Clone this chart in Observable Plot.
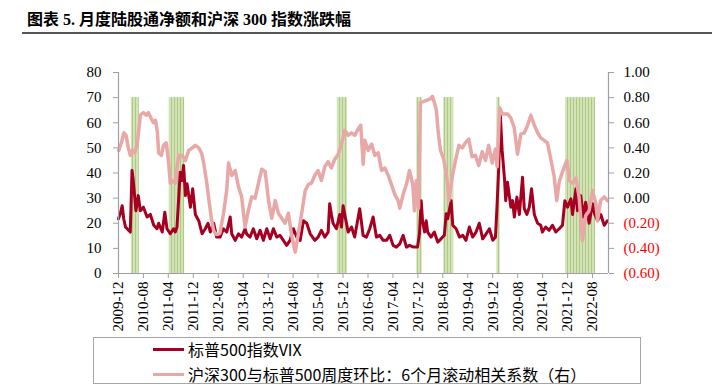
<!DOCTYPE html>
<html><head><meta charset="utf-8">
<script src="https://cdn.jsdelivr.net/npm/d3@7"></script>
<script src="https://cdn.jsdelivr.net/npm/@observablehq/plot@0.6"></script>
<style>
html,body{margin:0;padding:0;background:#fff}
body{width:722px;height:385px;overflow:hidden;position:relative}
#title{position:absolute;left:27px;top:11px;font-weight:bold;font-size:16px;line-height:17px;font-family:"Liberation Serif","Noto Sans CJK SC",serif;color:#000;white-space:nowrap}
#rule{position:absolute;left:22px;top:32px;width:690px;height:2px;background:#555}
#chart{position:absolute;left:0;top:40px}
#legend{position:absolute;left:93px;top:337px;width:548px;height:47px;border:1px solid #a6a6a6;box-sizing:border-box}
.item{position:absolute;left:0;height:18px;font-family:"Noto Sans CJK SC",sans-serif;font-size:16px;line-height:18px;white-space:nowrap;color:#000}
.sw{position:absolute;left:59px;top:8px;width:31px;height:3px}
.lab{position:absolute;left:94px;top:0}
</style></head>
<body>
<div id="title">图表 5. 月度陆股通净额和沪深 300 指数涨跌幅</div>
<div id="rule"></div>
<div id="chart"></div>
<div id="legend"></div>
<script>
// ---- data ----
const seriesNames = ["标普500指数VIX", "沪深300与标普500周度环比：6个月滚动相关系数（右）"];
const xTickLabels = ["2009-12","2010-08","2011-04","2011-12","2012-08","2013-04","2013-12","2014-08","2015-04","2015-12","2016-08","2017-04","2017-12","2018-08","2019-04","2019-12","2020-08","2021-04","2021-12","2022-08"];
const leftTicks = [0,10,20,30,40,50,60,70,80];
const rightTicks = [1.0,0.8,0.6,0.4,0.2,0.0,-0.2,-0.4,-0.6];
const leftDomain = [0, 80];
const rightDomain = [-0.6, 1.0];
const xDomain = ["2009-12-01", "2023-01-04"];
const shadeTop = 70;
const shadeStart = ["2010-04-05","2011-04-11","2015-10-07","2017-11-20","2018-08-10","2020-01-10","2021-11-11"];
const shadeEnd   = ["2010-06-22","2011-09-08","2016-01-13","2018-01-12","2018-11-16","2020-02-13","2022-08-30"];
const vixSeries = [["2009-12-01",21.8],["2009-12-20",24],["2010-01-06",27],["2010-01-21",21.8],["2010-02-07",18.5],["2010-03-26",16.5],["2010-04-12",41],["2010-04-24",37],["2010-05-20",25],["2010-06-12",31],["2010-07-02",25],["2010-08-01",26.4],["2010-09-06",22.5],["2010-10-08",23.5],["2010-11-10",19.2],["2010-12-12",17.8],["2010-12-28",20],["2011-02-01",16.5],["2011-02-26",24.4],["2011-03-19",17.8],["2011-04-20",15.8],["2011-05-22",17.8],["2011-06-08",16.5],["2011-06-25",18.5],["2011-07-10",29],["2011-07-26",40.3],["2011-08-13",37],["2011-08-28",43],["2011-09-15",31],["2011-10-01",35.7],["2011-11-03",26.4],["2011-11-25",33.7],["2011-12-21",23.5],["2012-01-23",21],["2012-02-25",15.8],["2012-03-27",17.8],["2012-04-23",20],["2012-05-15",16.5],["2012-06-17",20],["2012-07-16",14.5],["2012-08-18",14.5],["2012-09-20",17.8],["2012-10-22",16.5],["2012-11-25",22.5],["2012-12-10",15.8],["2013-01-13",13.2],["2013-02-14",15.8],["2013-03-16",14.5],["2013-04-19",17.8],["2013-05-04",15.8],["2013-06-07",14.5],["2013-07-09",17.8],["2013-08-11",13.8],["2013-09-13",17.2],["2013-10-15",13.2],["2013-11-17",17.8],["2013-12-20",13.8],["2014-01-21",17.8],["2014-02-23",14.5],["2014-03-26",15.2],["2014-04-28",13.2],["2014-05-30",11.2],["2014-07-02",13.2],["2014-08-04",17.8],["2014-09-06",14.5],["2014-10-09",13.2],["2014-11-10",21],["2014-12-12",20],["2015-01-15",15.8],["2015-03-01",13.2],["2015-04-02",14.5],["2015-05-04",17.2],["2015-06-06",14.5],["2015-07-09",16.5],["2015-07-24",27.8],["2015-08-10",23.5],["2015-08-26",20],["2015-09-28",17.8],["2015-10-30",23.5],["2015-11-16",18.5],["2015-12-02",27],["2015-12-18",23.5],["2016-01-20",16.5],["2016-02-22",18.5],["2016-03-24",14.5],["2016-05-12",25.8],["2016-06-14",15.2],["2016-07-16",14.5],["2016-08-18",17.8],["2016-09-20",22.5],["2016-10-22",14.5],["2016-11-24",15.2],["2016-12-27",13.2],["2017-01-29",13.2],["2017-03-01",15.2],["2017-04-03",11.2],["2017-05-05",10.5],["2017-06-07",11.8],["2017-07-10",15.2],["2017-08-11",10.5],["2017-09-10",11.2],["2017-10-18",10.5],["2017-11-27",10.5],["2017-12-16",15.8],["2018-01-02",29],["2018-01-15",21],["2018-02-04",16.5],["2018-02-20",21],["2018-03-06",16.5],["2018-04-08",14.5],["2018-05-10",16.5],["2018-06-12",12.5],["2018-07-15",13.8],["2018-08-16",15.2],["2018-09-03",23.8],["2018-09-18",21.8],["2018-10-21",29],["2018-11-06",19.2],["2018-12-09",17.8],["2019-01-11",14.5],["2019-02-12",15.2],["2019-03-15",13.2],["2019-04-17",18.5],["2019-05-19",14.5],["2019-06-21",16.5],["2019-07-23",20],["2019-08-25",13.8],["2019-09-28",15.8],["2019-10-30",17.8],["2019-12-02",13.2],["2019-12-28",14.5],["2020-01-10",25],["2020-01-29",42.3],["2020-02-13",63.5],["2020-03-02",49],["2020-03-25",37.7],["2020-04-06",29],["2020-04-23",36.3],["2020-05-26",26.4],["2020-06-12",29],["2020-06-29",22.5],["2020-07-24",30.4],["2020-08-17",23.5],["2020-09-17",38.3],["2020-10-04",25.8],["2020-10-29",23.5],["2020-11-22",26.4],["2020-12-14",33.7],["2021-01-10",23.5],["2021-02-11",20],["2021-03-14",19.2],["2021-03-30",16.5],["2021-05-01",18.5],["2021-06-04",17.2],["2021-07-06",19.2],["2021-08-08",16.5],["2021-09-10",17.8],["2021-10-12",19.2],["2021-11-04",29],["2021-11-30",26.4],["2022-01-02",29.7],["2022-01-18",23.5],["2022-02-20",33.7],["2022-03-07",25],["2022-04-08",31],["2022-05-04",22.5],["2022-05-26",28.4],["2022-06-29",20],["2022-08-01",27.8],["2022-08-23",23.5],["2022-09-19",21],["2022-10-21",23.5],["2022-11-23",19.2],["2022-12-25",21]];
const corrSeries = [["2009-12-04",0.38],["2009-12-29",0.44],["2010-01-23",0.52],["2010-02-13",0.50],["2010-03-07",0.40],["2010-03-26",0.34],["2010-04-15",0.38],["2010-05-09",0.36],["2010-06-03",0.44],["2010-07-02",0.66],["2010-08-01",0.68],["2010-08-30",0.66],["2010-09-19",0.68],["2010-10-13",0.64],["2010-11-07",0.60],["2010-11-27",0.62],["2010-12-16",0.52],["2010-12-28",0.36],["2011-01-24",0.34],["2011-02-13",0.42],["2011-03-12",0.44],["2011-04-02",0.30],["2011-04-21",0.12],["2011-05-20",0.14],["2011-06-09",0.12],["2011-06-28",0.26],["2011-07-11",0.34],["2011-08-13",0.34],["2011-09-15",0.30],["2011-10-17",0.38],["2011-11-22",0.40],["2011-12-21",0.42],["2012-01-23",0.40],["2012-02-19",0.36],["2012-03-11",0.28],["2012-04-07",0.14],["2012-04-29",0.00],["2012-05-25",-0.16],["2012-06-17",-0.26],["2012-07-13",-0.29],["2012-08-17",-0.28],["2012-09-21",-0.12],["2012-10-22",0.06],["2012-11-09",0.28],["2012-12-10",0.18],["2013-01-13",0.22],["2013-02-14",0.09],["2013-03-17",0.01],["2013-04-19",-0.23],["2013-05-21",-0.10],["2013-06-23",0.01],["2013-07-26",0.00],["2013-08-28",0.12],["2013-09-29",0.23],["2013-11-02",0.21],["2013-12-04",-0.02],["2014-01-05",-0.16],["2014-02-08",-0.02],["2014-03-10",-0.12],["2014-04-12",-0.16],["2014-05-14",-0.20],["2014-06-16",-0.12],["2014-07-18",-0.30],["2014-08-21",-0.43],["2014-09-22",-0.28],["2014-10-24",-0.12],["2014-11-27",0.06],["2014-12-29",0.11],["2015-01-28",0.12],["2015-02-28",0.18],["2015-04-02",0.22],["2015-05-04",0.14],["2015-06-06",0.25],["2015-07-09",0.29],["2015-08-10",0.24],["2015-09-12",0.31],["2015-10-15",0.35],["2015-11-16",0.43],["2015-12-18",0.54],["2016-01-20",0.50],["2016-02-22",0.52],["2016-03-24",0.50],["2016-04-27",0.55],["2016-05-22",0.58],["2016-06-15",0.27],["2016-06-30",0.46],["2016-08-03",0.38],["2016-09-05",0.43],["2016-10-07",0.34],["2016-11-09",0.36],["2016-12-11",0.22],["2017-01-13",0.24],["2017-02-15",0.18],["2017-03-17",0.11],["2017-04-19",0.03],["2017-05-22",-0.02],["2017-06-07",-0.08],["2017-07-10",0.03],["2017-08-11",0.11],["2017-09-10",0.22],["2017-10-12",0.11],["2017-10-28",-0.10],["2017-11-15",0.14],["2017-12-07",-0.08],["2017-12-26",0.76],["2018-01-28",0.77],["2018-03-01",0.78],["2018-04-02",0.79],["2018-04-22",0.81],["2018-05-11",0.76],["2018-05-30",0.70],["2018-06-19",0.51],["2018-07-09",0.38],["2018-08-10",0.31],["2018-09-13",0.14],["2018-09-28",-0.02],["2018-11-01",0.17],["2018-12-03",0.30],["2019-01-05",0.42],["2019-02-07",0.40],["2019-03-09",0.44],["2019-04-11",0.47],["2019-05-14",0.33],["2019-06-15",0.34],["2019-07-17",0.26],["2019-08-20",0.37],["2019-09-22",0.30],["2019-10-23",0.42],["2019-11-26",0.28],["2019-12-28",0.39],["2020-01-14",0.25],["2020-02-06",0.72],["2020-03-05",0.67],["2020-04-04",0.67],["2020-04-23",0.67],["2020-05-25",0.64],["2020-06-28",0.56],["2020-07-30",0.35],["2020-09-01",0.51],["2020-10-04",0.52],["2020-11-06",0.58],["2020-12-07",0.66],["2021-01-10",0.58],["2021-02-11",0.52],["2021-03-14",0.48],["2021-04-16",0.46],["2021-05-18",0.44],["2021-06-20",0.31],["2021-07-23",0.17],["2021-08-17",-0.02],["2021-09-10",0.13],["2021-10-12",0.21],["2021-11-24",0.30],["2021-12-17",0.14],["2022-01-19",0.12],["2022-02-20",0.16],["2022-03-23",0.01],["2022-04-25",-0.34],["2022-05-26",-0.14],["2022-06-29",-0.10],["2022-08-01",0.06],["2022-09-03",-0.04],["2022-09-19",-0.18],["2022-10-18",-0.02],["2022-11-23",0.01],["2022-12-25",-0.02]];

// ---- styles ----
const vixColor = "#a50021";
const corrColor = "#e8a8a8";
const axisColor = "#a0a0a0";

// ---- build ----
const parseDay = d3.utcParse("%Y-%m-%d");
const parseMonth = d3.utcParse("%Y-%m");
const vix = vixSeries.map(([d, v]) => ({date: parseDay(d), value: v}));
const corr = corrSeries.map(([d, v]) => ({date: parseDay(d), value: v}));
const shades = shadeStart.map((s, i) => ({start: parseDay(s), end: parseDay(shadeEnd[i]), top: shadeTop}));
const toLeft = c => (c - rightDomain[0]) / (rightDomain[1] - rightDomain[0]) * (leftDomain[1] - leftDomain[0]) + leftDomain[0];
const fmtRight = c => c < 0 ? "(" + (-c).toFixed(2) + ")" : c.toFixed(2);
const rightLabel = new Map(rightTicks.map(c => [toLeft(c), fmtRight(c)]));
const posRight = rightTicks.filter(c => c >= 0).map(toLeft);
const negRight = rightTicks.filter(c => c < 0).map(toLeft);
const xTicks = xTickLabels.map(parseMonth);
const x0 = parseDay(xDomain[0]), x1 = parseDay(xDomain[1]);

const chart = Plot.plot({
  width: 722, height: 295,
  marginLeft: 118, marginRight: 114, marginTop: 32, marginBottom: 62,
  style: {fontFamily: "'Liberation Serif', serif", fontSize: "15px", color: "#000", background: "transparent"},
  x: {type: "utc", domain: [x0, x1]},
  y: {domain: leftDomain},
  marks: [
    Plot.rect(shades, {x1: "start", x2: "end", y1: () => 0, y2: "top", fill: "url(#shadeStripes)"}),
    Plot.line(vix, {x: "date", y: "value", stroke: vixColor, strokeWidth: 3, strokeLinejoin: "round"}),
    Plot.line(corr, {x: "date", y: d => toLeft(d.value), stroke: corrColor, strokeWidth: 3.5, strokeLinejoin: "round"}),
    Plot.ruleX([x0], {stroke: axisColor, strokeWidth: 1.2}),
    Plot.ruleX([x1], {stroke: axisColor, strokeWidth: 1.2}),
    Plot.ruleY([leftDomain[0]], {stroke: axisColor, strokeWidth: 1.2}),
    Plot.axisY(leftTicks, {anchor: "left", tickSize: 5, tickPadding: 12, stroke: axisColor, fill: "#000", label: null}),
    Plot.axisY(posRight, {anchor: "right", tickSize: 5, tickPadding: 10, stroke: axisColor, fill: "#000", label: null, tickFormat: y => rightLabel.get(y)}),
    Plot.axisY(negRight, {anchor: "right", tickSize: 5, tickPadding: 10, stroke: axisColor, fill: "#ff0000", label: null, tickFormat: y => rightLabel.get(y)}),
    Plot.axisX(xTicks, {tickSize: 5, tickPadding: 3, tickRotate: -90, stroke: axisColor, fill: "#000", label: null, tickFormat: d3.utcFormat("%Y-%m")})
  ]
});
const svg = d3.select(chart);
const pat = svg.insert("defs", ":first-child").append("pattern")
  .attr("id", "shadeStripes").attr("patternUnits", "userSpaceOnUse").attr("width", 3).attr("height", 10);
pat.append("rect").attr("width", 3).attr("height", 10).attr("fill", "#d3e3b8");
pat.append("rect").attr("width", 1).attr("height", 10).attr("fill", "#afc884");
document.getElementById("chart").append(chart);

// legend
const legend = document.getElementById("legend");
[vixColor, corrColor].forEach((c, i) => {
  const item = document.createElement("div");
  item.className = "item";
  item.style.top = (i === 0 ? 2 : 27) + "px";
  const sw = document.createElement("span"); sw.className = "sw"; sw.style.background = c;
  const lab = document.createElement("span"); lab.className = "lab"; lab.textContent = seriesNames[i];
  item.append(sw, lab);
  legend.append(item);
});
</script>
</body></html>
